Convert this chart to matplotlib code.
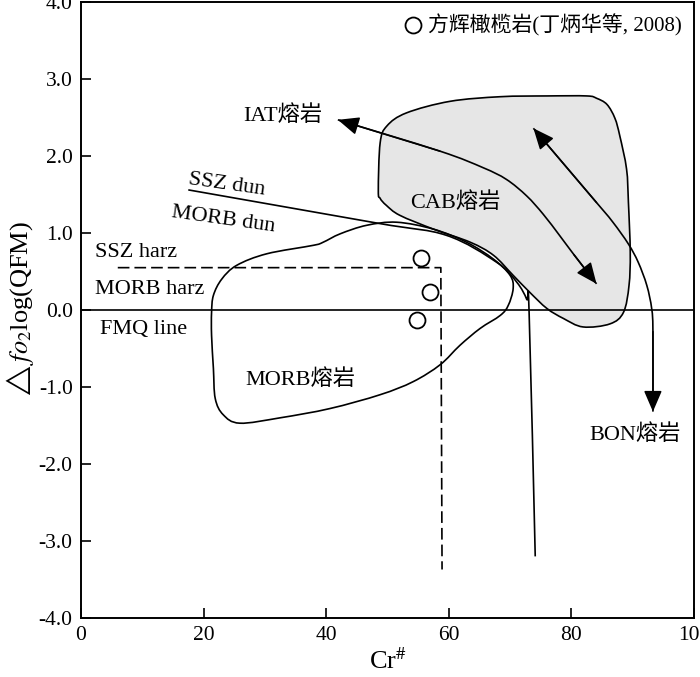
import numpy as np
import matplotlib as mpl
mpl.use('Agg')
from matplotlib import pyplot as plt
from matplotlib.path import Path
from matplotlib.patches import PathPatch

mpl.rc('font', family=['Liberation Serif', 'Noto Sans CJK SC'], size=16)
mpl.rc('mathtext', fontset='stix')
mpl.rc('axes', unicode_minus=False, linewidth=1.4)

# harzburgite samples (丁炳华等, 2008)
sample_cr = [55.4, 57.0, 54.8]
sample_fo2 = [0.68, 0.24, -0.13]

# CAB lava field
cab_x = [48.5, 48.8, 49.9, 53.1, 60.2, 68.4, 76.0, 82.5, 84.1, 85.8, 87.1,
         87.9, 89.0, 89.3, 89.6, 89.4, 88.5, 86.3, 81.9, 78.7, 76.0, 73.2,
         70.5, 67.3, 63.5, 57.5, 52.0, 49.8, 48.8]
cab_y = [1.55, 2.17, 2.39, 2.56, 2.71, 2.77, 2.78, 2.78, 2.75, 2.67, 2.49,
         2.26, 1.83, 1.40, 0.75, 0.32, -0.03, -0.18, -0.22, -0.11, 0.02,
         0.23, 0.45, 0.71, 0.88, 1.05, 1.23, 1.36, 1.45]

# MORB lava field
morb_x = [21.3, 21.6, 22.95, 25.4, 30.3, 37.9, 39.5, 42.3, 46.6, 51.5, 57.5,
          62.9, 67.3, 70.0, 70.5, 69.7, 68.4, 65.1, 61.8, 58.6, 54.2, 48.8,
          40.6, 32.5, 25.9, 23.2, 21.9, 21.6, 21.3]
morb_y = [-0.03, 0.19, 0.40, 0.58, 0.73, 0.84, 0.88, 0.99, 1.10, 1.14, 1.05,
          0.88, 0.66, 0.45, 0.28, 0.06, -0.07, -0.24, -0.46, -0.71, -0.93,
          -1.10, -1.28, -1.40, -1.47, -1.36, -1.15, -0.76, -0.33]

# SSZ / MORB dunite boundary
dun_x = [17.5, 48.2, 59.6, 67.8, 71.1, 72.7, 73.1, 74.1]
dun_y = [1.56, 1.13, 0.97, 0.62, 0.36, 0.14, -0.03, -3.2]

# SSZ / MORB harzburgite boundary
harz_x = [6.0, 58.7, 58.9]
harz_y = [0.55, 0.55, -3.37]

# IAT <-> CAB trend
iat_x = [41.9, 58.56, 65.6, 69.4, 72.7, 75.4, 78.1, 80.4, 84.1]
iat_y = [2.47, 2.063, 1.848, 1.696, 1.482, 1.244, 0.965, 0.72, 0.34]

# CAB -> BON trend
bon_x = [73.8, 84.1, 86.8, 89.3, 90.9, 92.3, 93.1, 93.3, 93.3]
bon_y = [2.36, 1.395, 1.137, 0.857, 0.62, 0.32, 0.017, -0.28, -1.32]


def smooth_path(xs, ys, closed=False):
    # catmull-rom through the read points, drawn as bezier segments
    pts = np.column_stack([xs, ys])
    n = len(pts)
    if closed:
        pad = np.vstack([pts[-1], pts, pts[0], pts[1]])
        nseg = n
    else:
        pad = np.vstack([pts[0], pts, pts[-1]])
        nseg = n - 1
    verts = [pts[0]]
    codes = [Path.MOVETO]
    for i in range(nseg):
        p0, p1, p2, p3 = pad[i], pad[i + 1], pad[i + 2], pad[i + 3]
        verts += [p1 + (p2 - p0) / 6., p2 - (p3 - p1) / 6., p2]
        codes += [Path.CURVE4] * 3
    return Path(verts, codes)


def arrow_head(ax, tip, back):
    ax.annotate('', xy=tip, xytext=back,
                arrowprops=dict(arrowstyle='-|>,head_length=0.65,head_width=0.28',
                                mutation_scale=20, color='black', lw=1.1,
                                shrinkA=0, shrinkB=0))


fig = plt.figure(figsize=(7.0, 6.77), dpi=100)
ax = fig.add_axes([81/700., 59/677., 613/700., 616/677.])

ax.add_patch(PathPatch(smooth_path(cab_x, cab_y, closed=True),
                       facecolor='#e6e6e6', edgecolor='black', lw=1.2))
ax.add_patch(PathPatch(smooth_path(morb_x, morb_y, closed=True),
                       facecolor='none', edgecolor='black', lw=1.2))
ax.add_patch(PathPatch(smooth_path(dun_x, dun_y), facecolor='none',
                       edgecolor='black', lw=1.2))
ax.plot(harz_x, harz_y, color='black', lw=1.2, dashes=(7, 3))
ax.axhline(0, color='black', lw=1.2)

ax.add_patch(PathPatch(smooth_path(iat_x, iat_y), facecolor='none',
                       edgecolor='black', lw=1.2))
arrow_head(ax, (iat_x[0], iat_y[0]), (iat_x[1], iat_y[1]))
arrow_head(ax, (iat_x[-1], iat_y[-1]), (iat_x[-2], iat_y[-2]))

ax.add_patch(PathPatch(smooth_path(bon_x, bon_y), facecolor='none',
                       edgecolor='black', lw=1.2))
arrow_head(ax, (bon_x[0], bon_y[0]), (bon_x[1], bon_y[1]))
arrow_head(ax, (bon_x[-1], bon_y[-1]), (bon_x[-2], bon_y[-2]))

ax.plot(sample_cr, sample_fo2, 'o', ms=11.5, mfc='white', mec='black',
        mew=1.3, ls='none', label='方辉橄榄岩(丁炳华等, 2008)')

ax.text(26.4, 2.52, 'IAT熔岩', ha='left', va='center')
ax.text(17.5, 1.70, 'SSZ dun', ha='left', va='center', rotation=-8,
        rotation_mode='anchor')
ax.text(14.8, 1.26, 'MORB dun', ha='left', va='center', rotation=-8,
        rotation_mode='anchor')
ax.text(2.3, 0.75, 'SSZ harz', ha='left', va='center')
ax.text(2.3, 0.27, 'MORB harz', ha='left', va='center')
ax.text(3.1, -0.25, 'FMQ line', ha='left', va='center')
ax.text(53.7, 1.40, 'CAB熔岩', ha='left', va='center')
ax.text(26.8, -0.90, 'MORB熔岩', ha='left', va='center')
ax.text(83.0, -1.62, 'BON熔岩', ha='left', va='center')

ax.legend(loc='upper right', frameon=False, handlelength=0.8,
          handletextpad=0.3, borderaxespad=0.2, fontsize=15)

ax.set_xlim(0, 100)
ax.set_ylim(-4, 4)
ax.set_xticks(np.arange(0, 101, 20))
ax.set_yticks(np.arange(-4, 4.1, 1))
ax.set_yticklabels(['%.1f' % v for v in np.arange(-4, 4.1, 1)])
ax.tick_params(direction='in', length=7, width=1.2, labelsize=15.5, pad=6)

ax.set_xlabel(r'Cr$^{\#}$', fontsize=19, labelpad=2)
ax.set_ylabel(r'$\triangle\mathit{fo}_{2}$log(QFM)', fontsize=19, labelpad=2)

fig.savefig('out.png', dpi=100)
